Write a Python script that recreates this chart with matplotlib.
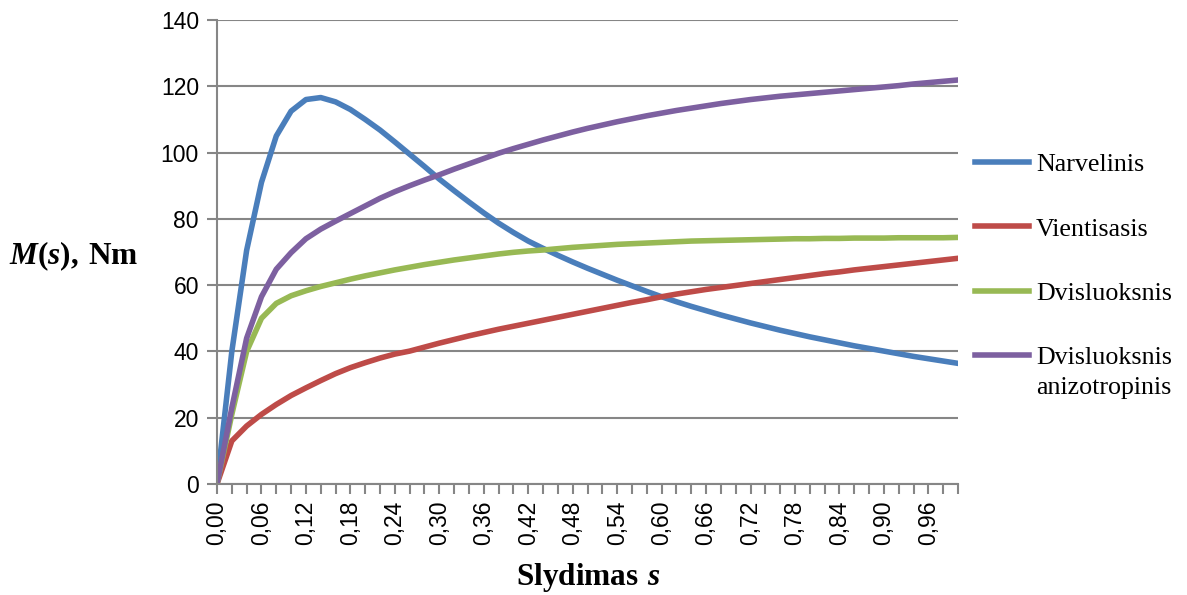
import matplotlib
matplotlib.use('Agg')
import matplotlib.pyplot as plt
from matplotlib.ticker import MultipleLocator, FuncFormatter
import numpy as np

# slydimas, kas 0,02
s = np.round(np.arange(0, 51) * 0.02, 2)

narvelinis = [0, 40, 70.5, 91, 105, 112.5, 116, 116.6, 115.3, 113,
              110, 106.8, 103.2, 99.5, 95.8, 92.0, 88.5, 85.1, 81.8, 78.7,
              75.9, 73.3, 71.1, 69.0, 67.0, 65.1, 63.3, 61.5, 59.8, 58.1,
              56.5, 55.0, 53.6, 52.3, 51.0, 49.8, 48.6, 47.5, 46.4, 45.4,
              44.4, 43.5, 42.6, 41.7, 40.9, 40.1, 39.3, 38.5, 37.8, 37.1,
              36.4]
vientisasis = [0, 13, 17.5, 21, 24, 26.7, 29, 31.2, 33.3, 35.1,
               36.6, 38.0, 39.2, 40.1, 41.3, 42.5, 43.6, 44.7, 45.7, 46.7,
               47.6, 48.5, 49.4, 50.3, 51.2, 52.1, 53.0, 53.9, 54.8, 55.6,
               56.5, 57.3, 58.0, 58.7, 59.3, 59.9, 60.5, 61.1, 61.7, 62.3,
               62.9, 63.5, 64.0, 64.6, 65.1, 65.6, 66.1, 66.6, 67.1, 67.6,
               68.1]
dvisluoksnis = [0, 21, 40, 50, 54.5, 56.8, 58.3, 59.6, 60.7, 61.8,
                62.8, 63.7, 64.6, 65.4, 66.2, 66.9, 67.6, 68.2, 68.8, 69.4,
                69.9, 70.3, 70.6, 71.0, 71.4, 71.7, 72.0, 72.3, 72.5, 72.7,
                72.9, 73.1, 73.3, 73.4, 73.5, 73.6, 73.7, 73.8, 73.9, 74.0,
                74.0, 74.1, 74.1, 74.2, 74.2, 74.2, 74.3, 74.3, 74.3, 74.3,
                74.4]
anizotropinis = [0, 23, 44, 56.5, 64.8, 69.8, 74.0, 76.9, 79.3, 81.6,
                 83.9, 86.2, 88.2, 90.0, 91.7, 93.3, 95.0, 96.6, 98.2, 99.8,
                 101.2, 102.5, 103.8, 105.0, 106.2, 107.3, 108.3, 109.3, 110.2, 111.1,
                 111.9, 112.7, 113.4, 114.1, 114.8, 115.4, 116.0, 116.5, 117.0, 117.4,
                 117.8, 118.2, 118.6, 119.0, 119.4, 119.8, 120.2, 120.7, 121.1, 121.5,
                 121.9]

plt.rcParams['mathtext.fontset'] = 'custom'
plt.rcParams['mathtext.rm'] = 'Liberation Serif'
plt.rcParams['mathtext.bf'] = 'Liberation Serif:bold'
plt.rcParams['mathtext.bfit'] = 'Liberation Serif:bold:italic'

fig = plt.figure(figsize=(11.87, 5.95), dpi=100)
ax = fig.add_axes([217/1187, 1-484/595, (958-217)/1187, (484-20)/595])

lw = 4.0
ax.plot(s, narvelinis, color='#4A7EBB', lw=lw, label='Narvelinis')
ax.plot(s, vientisasis, color='#BE4B48', lw=lw, label='Vientisasis')
ax.plot(s, dvisluoksnis, color='#98B954', lw=lw, label='Dvisluoksnis')
ax.plot(s, anizotropinis, color='#7D60A0', lw=lw, label='Dvisluoksnis')

ax.set_xlim(0, 1)
ax.set_ylim(0, 140)
ax.yaxis.set_major_locator(MultipleLocator(20))
ax.xaxis.set_major_locator(MultipleLocator(0.02))

def xfmt(v, pos):
    k = int(round(v / 0.02))
    if k % 3 == 0 and k < 50:
        return f'{v:.2f}'.replace('.', ',')
    return ''

ax.xaxis.set_major_formatter(FuncFormatter(xfmt))
ax.grid(axis='y', color='#868686', lw=1.5)
ax.set_axisbelow(True)
for sp in ['top', 'right']:
    ax.spines[sp].set_visible(False)
for sp in ['left', 'bottom']:
    ax.spines[sp].set_color('#868686')
    ax.spines[sp].set_linewidth(1.5)
ax.tick_params(axis='both', colors='#868686', width=1.5, length=7, direction='out')
ax.tick_params(axis='y', labelcolor='black', labelsize=16.5, pad=6,
               labelfontfamily='Liberation Sans')
ax.tick_params(axis='x', labelcolor='black', labelsize=16.5, pad=5,
               labelrotation=90, labelfontfamily='Liberation Sans')

leg = ax.legend(loc='upper left',
                bbox_to_anchor=(1046/1187 - 0.06, 1-171/595 + 0.03),
                bbox_transform=fig.transFigure, frameon=False,
                prop={'family': 'Liberation Serif', 'size': 18.7},
                handlelength=2.1, handletextpad=0.25, labelspacing=1.58,
                borderaxespad=0, borderpad=0)
fig.text(1036/1187, 1-388/595, 'anizotropinis', family='Liberation Serif',
         size=18.7, va='center', ha='left')

fig.text(74/1187, 1-256/595, r'$\mathbfit{M}\mathbf{(}\mathbfit{s}\mathbf{){,}\ Nm}$',
         size=22.5, ha='center', va='center')
fig.text(588/1187, 1-577/595, r'$\mathbf{Slydimas}\ \mathbfit{s}$',
         size=22.5, ha='center', va='center')

fig.savefig('out.png', dpi=100)
